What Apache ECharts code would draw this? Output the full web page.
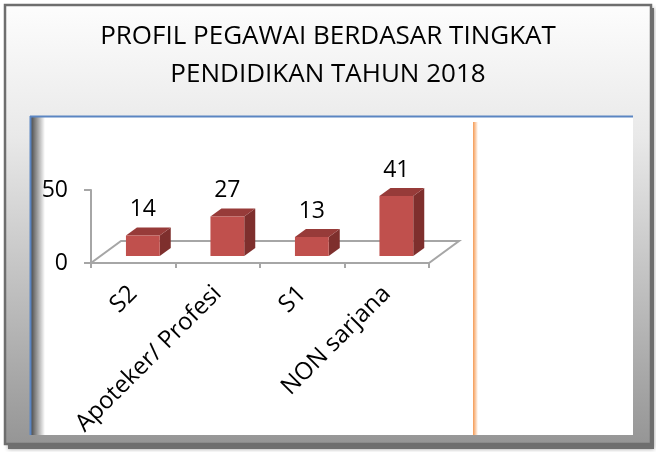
<!DOCTYPE html>
<html>
<head>
<meta charset="utf-8">
<script src="https://cdn.jsdelivr.net/npm/echarts@6/dist/echarts.min.js"></script>
<style>
html, body { margin: 0; padding: 0; background: #fff; }
#chart { width: 656px; height: 452px; }
</style>
</head>
<body>
<div id="chart"></div>
<script>
// data
var categories = ['S2', 'Apoteker/ Profesi', 'S1', 'NON sarjana'];
var values = [14, 27, 13, 41];
var yMin = 0, yMax = 50, yStep = 50;

var FONT = 'Open Sans';
var chart = echarts.init(document.getElementById('chart'));

// floor depth (3d look)
var FLOOR_DX = 30, FLOOR_DY = -22;

function renderFloor(params, api) {
    var cs = params.coordSys;
    var by = cs.y + cs.height;
    return {
        type: 'polygon',
        shape: { points: [
            [cs.x, by], [cs.x + cs.width, by],
            [cs.x + cs.width + FLOOR_DX, by + FLOOR_DY], [cs.x + FLOOR_DX, by + FLOOR_DY]
        ] },
        style: { fill: '#fff', stroke: '#a6a6a6', lineWidth: 2 }
    };
}

function renderBar(params, api) {
    var i = api.value(0), v = api.value(1);
    var top = api.coord([i, v]), base = api.coord([i, 0]);
    var w = api.size([1, 0])[0] * 0.4;
    var dx = FLOOR_DX * 0.32, dy = FLOOR_DY * 0.32;   // shift bar into floor
    var sx = 11, sy = -8;                              // bar depth
    var x0 = top[0] - w / 2 + dx, x1 = x0 + w;
    var y0 = top[1] + dy, y1 = base[1] + dy;
    return {
        type: 'group',
        children: [
            { type: 'polygon', shape: { points: [[x1, y0], [x1 + sx, y0 + sy], [x1 + sx, y1 + sy], [x1, y1]] },
              style: { fill: '#7e2f2d' } },
            { type: 'polygon', shape: { points: [[x0, y0], [x0 + sx, y0 + sy], [x1 + sx, y0 + sy], [x1, y0]] },
              style: { fill: '#973b39' } },
            { type: 'rect', shape: { x: x0, y: y0, width: w, height: y1 - y0 },
              style: { fill: '#c0504d' } },
            { type: 'text', x: x0 + w / 2, y: y0 - 26,
              style: { text: String(v), fill: '#000', font: '23px "' + FONT + '"', align: 'center', verticalAlign: 'middle' } }
        ]
    };
}

var option = {
    animation: false,
    title: {
        text: 'PROFIL PEGAWAI BERDASAR TINGKAT\nPENDIDIKAN TAHUN 2018',
        left: 'center',
        top: 13,
        textStyle: { fontFamily: FONT, fontSize: 26, fontWeight: 'normal', color: '#000', lineHeight: 38 }
    },
    graphic: [
        { type: 'rect', z: -10, shape: { x: 8, y: 8, width: 646, height: 441 },
          style: { fill: '#6f6f6f', shadowBlur: 4, shadowColor: 'rgba(0,0,0,0.4)' } },
        { type: 'rect', z: -10, shape: { x: 5, y: 5, width: 646, height: 439 },
          style: {
              fill: new echarts.graphic.LinearGradient(0, 0, 0, 1, [
                  { offset: 0, color: '#fdfdfd' },
                  { offset: 0.3, color: '#e9e9e9' },
                  { offset: 1, color: '#959595' }
              ]),
              stroke: '#6e6e6e', lineWidth: 2.5
          } },
        { type: 'rect', z: -10, shape: { x: 30, y: 116, width: 603, height: 319 }, style: { fill: '#fff' } },
        { type: 'rect', z: -10, shape: { x: 31, y: 117, width: 14, height: 318 },
          style: { fill: new echarts.graphic.LinearGradient(0, 0, 1, 0, [
              { offset: 0, color: 'rgba(0,0,0,0.7)' },
              { offset: 1, color: 'rgba(0,0,0,0)' }
          ]) } },
        { type: 'line', z: -10, shape: { x1: 30, y1: 116.5, x2: 633, y2: 116.5 }, style: { stroke: '#5b85c2', lineWidth: 2 } },
        { type: 'line', z: -10, shape: { x1: 30.5, y1: 116, x2: 30.5, y2: 435 }, style: { stroke: '#5b85c2', lineWidth: 2 } },
        { type: 'rect', z: -10, shape: { x: 473, y: 122, width: 5, height: 313 },
          style: { fill: new echarts.graphic.LinearGradient(0, 0, 1, 0, [
              { offset: 0, color: '#f49a55' },
              { offset: 1, color: 'rgba(247,150,70,0)' }
          ]) } }
    ],
    grid: { left: 91, right: 227, top: 190, bottom: 189 },
    xAxis: {
        type: 'category',
        data: categories,
        axisLine: { lineStyle: { color: '#a6a6a6', width: 2 } },
        axisTick: { show: true, length: 5, lineStyle: { color: '#a6a6a6', width: 2 } },
        axisLabel: { rotate: 45, margin: 27, color: '#000', fontFamily: FONT, fontSize: 24, interval: 0 }
    },
    yAxis: {
        type: 'value',
        min: yMin, max: yMax, interval: yStep,
        axisLine: { show: true, lineStyle: { color: '#a6a6a6', width: 2 } },
        axisTick: { show: true, length: 7, lineStyle: { color: '#a6a6a6', width: 2 } },
        splitLine: { show: false },
        axisLabel: { margin: 23, color: '#000', fontFamily: FONT, fontSize: 23 }
    },
    series: [
        { type: 'custom', z: 1, renderItem: renderFloor, data: [[0, 0]], silent: true },
        { type: 'custom', z: 3, renderItem: renderBar,
          encode: { x: 0, y: 1 },
          data: values.map(function (v, i) { return [i, v]; }) }
    ]
};
chart.setOption(option);
</script>
</body>
</html>
